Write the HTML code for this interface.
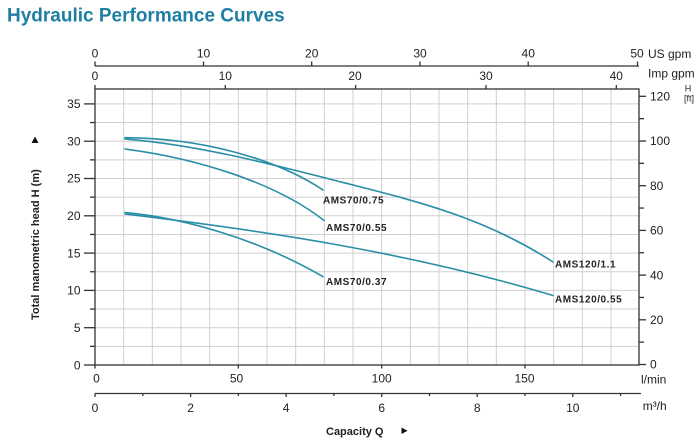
<!DOCTYPE html>
<html><head><meta charset="utf-8"><style>
html,body{margin:0;padding:0;background:#fff;}
svg{display:block;}
text{font-family:"Liberation Sans",Arial,sans-serif;fill:#222;}
</style></head><body>
<svg width="700" height="438" viewBox="0 0 700 438" xmlns="http://www.w3.org/2000/svg">
<text x="7" y="21.7" style="font-size:19px;font-weight:bold;fill:#1e7fa3">Hydraulic Performance Curves</text>

<!-- grid -->
<g stroke="#cfcfcf" stroke-width="1">
<line x1="123.7" y1="89" x2="123.7" y2="365"/><line x1="152.3" y1="89" x2="152.3" y2="365"/><line x1="181" y1="89" x2="181" y2="365"/><line x1="209.7" y1="89" x2="209.7" y2="365"/><line x1="238.3" y1="89" x2="238.3" y2="365"/><line x1="267" y1="89" x2="267" y2="365"/><line x1="295.7" y1="89" x2="295.7" y2="365"/><line x1="324.3" y1="89" x2="324.3" y2="365"/><line x1="353" y1="89" x2="353" y2="365"/><line x1="381.7" y1="89" x2="381.7" y2="365"/><line x1="410.3" y1="89" x2="410.3" y2="365"/><line x1="439" y1="89" x2="439" y2="365"/><line x1="467.7" y1="89" x2="467.7" y2="365"/><line x1="496.3" y1="89" x2="496.3" y2="365"/><line x1="525" y1="89" x2="525" y2="365"/><line x1="553.7" y1="89" x2="553.7" y2="365"/><line x1="582.3" y1="89" x2="582.3" y2="365"/><line x1="611" y1="89" x2="611" y2="365"/>
<line x1="95" y1="346.35" x2="639" y2="346.35"/><line x1="95" y1="327.7" x2="639" y2="327.7"/><line x1="95" y1="309.05" x2="639" y2="309.05"/><line x1="95" y1="290.4" x2="639" y2="290.4"/><line x1="95" y1="271.75" x2="639" y2="271.75"/><line x1="95" y1="253.1" x2="639" y2="253.1"/><line x1="95" y1="234.45" x2="639" y2="234.45"/><line x1="95" y1="215.8" x2="639" y2="215.8"/><line x1="95" y1="197.15" x2="639" y2="197.15"/><line x1="95" y1="178.5" x2="639" y2="178.5"/><line x1="95" y1="159.85" x2="639" y2="159.85"/><line x1="95" y1="141.2" x2="639" y2="141.2"/><line x1="95" y1="122.55" x2="639" y2="122.55"/><line x1="95" y1="103.9" x2="639" y2="103.9"/>
</g>

<!-- frame & axes -->
<g stroke="#333" stroke-width="1.3" fill="none">
<rect x="95" y="89" width="544" height="276"/>
<line x1="95" y1="66" x2="639" y2="66"/>
<line x1="95" y1="393.5" x2="641" y2="393.5"/>
<!-- US gpm ticks -->
<line x1="95" y1="61.5" x2="95" y2="66"/><line x1="203.5" y1="61.5" x2="203.5" y2="66"/><line x1="311.7" y1="61.5" x2="311.7" y2="66"/><line x1="420" y1="61.5" x2="420" y2="66"/><line x1="528.2" y1="61.5" x2="528.2" y2="66"/><line x1="637.5" y1="61.5" x2="637.5" y2="66"/>
<!-- Imp gpm ticks -->
<line x1="95" y1="85" x2="95" y2="89"/><line x1="225.3" y1="85" x2="225.3" y2="89"/><line x1="355.6" y1="85" x2="355.6" y2="89"/><line x1="486" y1="85" x2="486" y2="89"/><line x1="616.3" y1="85" x2="616.3" y2="89"/>
<!-- left ticks -->
<line x1="84" y1="365" x2="95" y2="365"/><line x1="90" y1="346.35" x2="95" y2="346.35"/><line x1="84" y1="327.7" x2="95" y2="327.7"/><line x1="90" y1="309.05" x2="95" y2="309.05"/><line x1="84" y1="290.4" x2="95" y2="290.4"/><line x1="90" y1="271.75" x2="95" y2="271.75"/><line x1="84" y1="253.1" x2="95" y2="253.1"/><line x1="90" y1="234.45" x2="95" y2="234.45"/><line x1="84" y1="215.8" x2="95" y2="215.8"/><line x1="90" y1="197.15" x2="95" y2="197.15"/><line x1="84" y1="178.5" x2="95" y2="178.5"/><line x1="90" y1="159.85" x2="95" y2="159.85"/><line x1="84" y1="141.2" x2="95" y2="141.2"/><line x1="90" y1="122.55" x2="95" y2="122.55"/><line x1="84" y1="103.9" x2="95" y2="103.9"/>
<!-- right ticks -->
<line x1="639" y1="364.5" x2="646" y2="364.5"/><line x1="639" y1="342.15" x2="644" y2="342.15"/><line x1="639" y1="319.8" x2="646" y2="319.8"/><line x1="639" y1="297.45" x2="644" y2="297.45"/><line x1="639" y1="275.1" x2="646" y2="275.1"/><line x1="639" y1="252.75" x2="644" y2="252.75"/><line x1="639" y1="230.4" x2="646" y2="230.4"/><line x1="639" y1="208.05" x2="644" y2="208.05"/><line x1="639" y1="185.7" x2="646" y2="185.7"/><line x1="639" y1="163.35" x2="644" y2="163.35"/><line x1="639" y1="141" x2="646" y2="141"/><line x1="639" y1="118.65" x2="644" y2="118.65"/><line x1="639" y1="96.3" x2="646" y2="96.3"/>
<!-- l/min ticks -->
<line x1="95" y1="365" x2="95" y2="368.5"/><line x1="238.3" y1="365" x2="238.3" y2="368.5"/><line x1="381.7" y1="365" x2="381.7" y2="368.5"/><line x1="525" y1="365" x2="525" y2="368.5"/>
<!-- m3/h ticks -->
<line x1="95" y1="393.5" x2="95" y2="397"/><line x1="142.8" y1="393.5" x2="142.8" y2="396"/><line x1="190.6" y1="393.5" x2="190.6" y2="397"/><line x1="238.3" y1="393.5" x2="238.3" y2="396"/><line x1="286.1" y1="393.5" x2="286.1" y2="397"/><line x1="333.9" y1="393.5" x2="333.9" y2="396"/><line x1="381.7" y1="393.5" x2="381.7" y2="397"/><line x1="429.5" y1="393.5" x2="429.5" y2="396"/><line x1="477.2" y1="393.5" x2="477.2" y2="397"/><line x1="525" y1="393.5" x2="525" y2="396"/><line x1="572.8" y1="393.5" x2="572.8" y2="397"/><line x1="620.6" y1="393.5" x2="620.6" y2="396"/>
</g>

<!-- top labels -->
<g style="font-size:12px" text-anchor="middle">
<text x="95" y="57.5">0</text><text x="203.5" y="57.5">10</text><text x="311.7" y="57.5">20</text><text x="420" y="57.5">30</text><text x="528.2" y="57.5">40</text><text x="637" y="57.5">50</text>
<text x="95" y="80">0</text><text x="225.3" y="80">10</text><text x="355" y="80">20</text><text x="486" y="80">30</text><text x="616.3" y="80">40</text>
</g>
<text x="648" y="58" style="font-size:12px">US gpm</text>
<text x="648" y="77.5" style="font-size:12px">Imp gpm</text>
<text x="688" y="91.5" style="font-size:9px" text-anchor="middle">H</text>
<text x="689" y="101.5" style="font-size:9px" text-anchor="middle">[ft]</text>

<!-- left labels -->
<g style="font-size:12px" text-anchor="end">
<text x="80.5" y="369.3">0</text><text x="80.5" y="331.9">5</text><text x="80.5" y="294.6">10</text><text x="80.5" y="257.3">15</text><text x="80.5" y="220">20</text><text x="80.5" y="182.7">25</text><text x="80.5" y="145.4">30</text><text x="80.5" y="108.1">35</text>
</g>
<!-- right labels -->
<g style="font-size:12px">
<text x="650" y="368.7">0</text><text x="650" y="324">20</text><text x="650" y="279.3">40</text><text x="650" y="234.6">60</text><text x="650" y="189.9">80</text><text x="650" y="145.2">100</text><text x="650" y="100.5">120</text>
</g>
<!-- bottom labels -->
<g style="font-size:12px" text-anchor="middle">
<text x="96.5" y="382.5">0</text><text x="236.5" y="382.5">50</text><text x="381.7" y="382.5">100</text><text x="524.5" y="382.5">150</text>
<text x="95" y="412">0</text><text x="190.6" y="412">2</text><text x="286.1" y="412">4</text><text x="381.7" y="412">6</text><text x="477.2" y="412">8</text><text x="572.8" y="412">10</text>
</g>
<text x="641" y="383.5" style="font-size:12px">l/min</text>
<text x="642.7" y="410" style="font-size:12px">m³/h</text>

<!-- axis titles -->
<text transform="translate(39,320) rotate(-90)" style="font-size:11px;font-weight:bold">Total manometric head H (m)</text>
<polygon points="35,136.5 31.5,143 38.5,143" fill="#111"/>
<text x="326" y="435" style="font-size:11px;font-weight:bold">Capacity Q</text>
<polygon points="401.5,427.5 401.5,434 407.5,430.7" fill="#111"/>

<!-- curves -->
<g stroke="#2a8ea7" stroke-width="1.6" fill="none" stroke-linecap="round">
<path d="M125,137.7 C200,138 275,158 323,190"/>
<path d="M125,139 C197,144.8 268,163.3 340,181.7 C411,199.9 482,215.9 553,262"/>
<path d="M125,149 C195,158 275,182 324,220.5"/>
<path d="M125,212.5 C185,218 260,240 323,276.7"/>
<path d="M125,214 C268,231.2 410,252.6 553,295.5"/>
</g>

<!-- curve labels -->
<g style="font-size:10px;font-weight:bold;letter-spacing:0.55px;fill:#111">
<text x="323" y="203.5">AMS70/0.75</text>
<text x="326" y="231">AMS70/0.55</text>
<text x="326" y="285">AMS70/0.37</text>
<text x="555" y="267.5">AMS120/1.1</text>
<text x="555" y="302.5">AMS120/0.55</text>
</g>
</svg>
</body></html>
